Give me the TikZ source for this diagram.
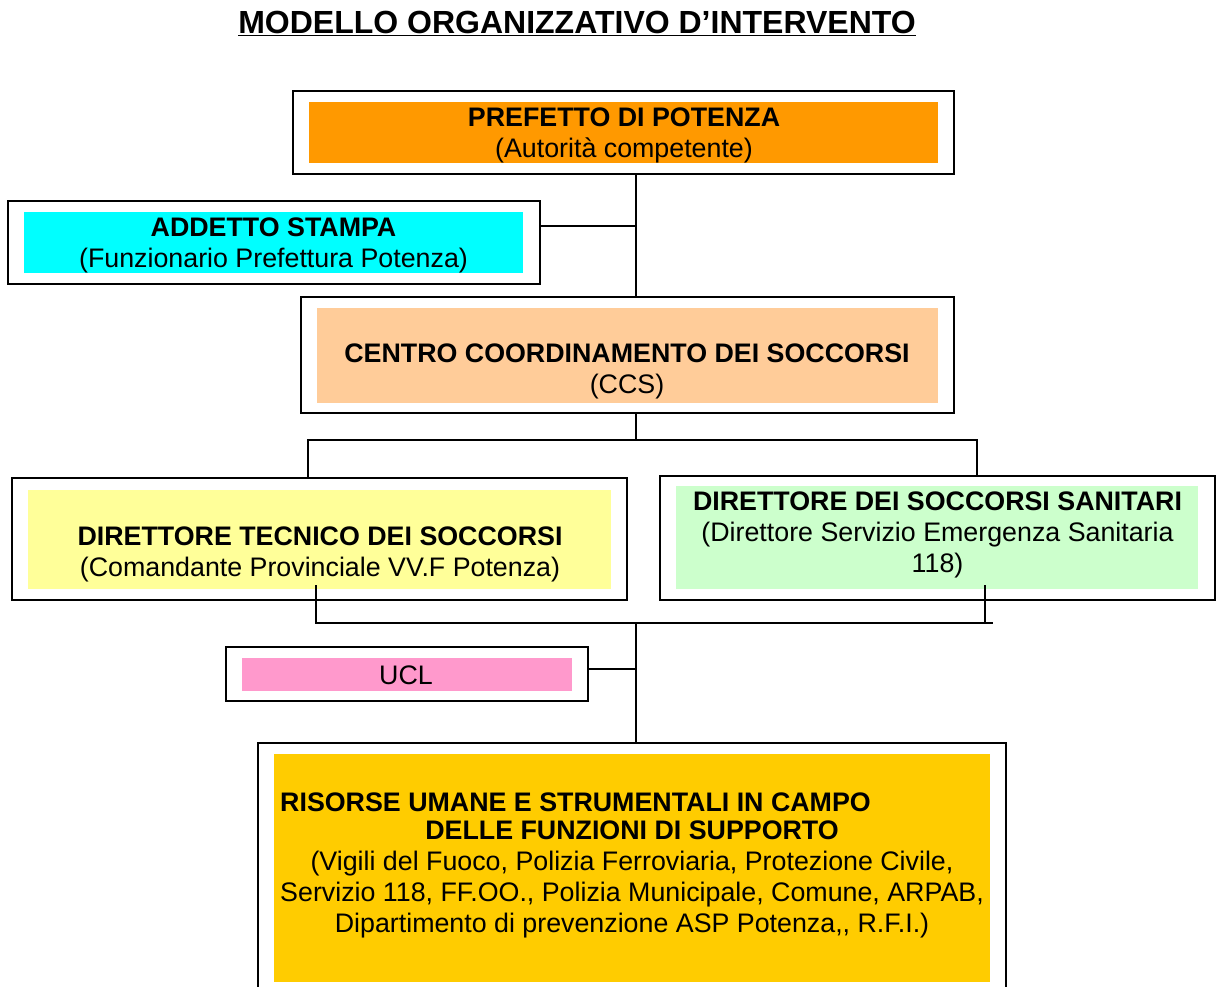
\documentclass[tikz,border=0pt]{standalone}
\usepackage{fontspec}
\setmainfont{Liberation Sans}
\definecolor{cOrange}{HTML}{FF9900}
\definecolor{cCyan}{HTML}{00FFFF}
\definecolor{cPeach}{HTML}{FFCC99}
\definecolor{cYellow}{HTML}{FFFF99}
\definecolor{cGreen}{HTML}{CCFFCC}
\definecolor{cPink}{HTML}{FF99CC}
\definecolor{cGold}{HTML}{FFCC00}
\tikzset{
  outerbox/.style={draw=black, line width=1.6pt, fill=white, inner sep=0pt, outer sep=0pt},
  fillbox/.style={draw=none, inner sep=0pt, outer sep=0pt},
  txt/.style={inner sep=0pt, align=center, font=\fontsize{26.8}{31}\selectfont},
  conn/.style={draw=black, line width=1.6pt},
}
\begin{document}
\begin{tikzpicture}[x=1pt,y=-1pt]
\useasboundingbox (0,0) rectangle (1220,986);
% title
\node[inner sep=0pt, font=\fontsize{32}{36}\selectfont\bfseries] (title) at (577,23) {\underline{MODELLO ORGANIZZATIVO D’INTERVENTO}};
% boxes
\node[outerbox, minimum width=661, minimum height=83] (prefO) at (623.5,132.5) {};
\node[fillbox, fill=cOrange, minimum width=629, minimum height=61] (prefI) at (623.5,132.5) {};
\node[txt] (prefT) at (624,135) {\textbf{PREFETTO DI POTENZA}\\(Autorità competente)};

\node[outerbox, minimum width=532, minimum height=83] (addO) at (274,242.5) {};
\node[fillbox, fill=cCyan, minimum width=499, minimum height=61] (addI) at (273.5,242.5) {};
\node[txt] (addT) at (273.5,245) {\textbf{ADDETTO STAMPA}\\(Funzionario Prefettura Potenza)};

\node[outerbox, minimum width=653, minimum height=116] (ccsO) at (627.5,355) {};
\node[fillbox, fill=cPeach, minimum width=621, minimum height=95] (ccsI) at (627.5,355.5) {};
\node[txt] (ccsT) at (627,371) {\textbf{CENTRO COORDINAMENTO DEI SOCCORSI}\\(CCS)};

\node[outerbox, minimum width=615, minimum height=122] (dtO) at (319.5,539) {};
\node[fillbox, fill=cYellow, minimum width=583, minimum height=99] (dtI) at (319.5,539.5) {};
\node[txt] (dtT) at (320,554) {\textbf{DIRETTORE TECNICO DEI SOCCORSI}\\(Comandante Provinciale VV.F Potenza)};

\node[outerbox, minimum width=555, minimum height=124] (dsO) at (937.5,538) {};
\node[fillbox, fill=cGreen, minimum width=522, minimum height=103] (dsI) at (937,537.5) {};
\node[txt] (dsT) at (937.5,535) {\textbf{DIRETTORE DEI SOCCORSI SANITARI}\\(Direttore Servizio Emergenza Sanitaria\\118)};

\node[outerbox, minimum width=362, minimum height=54] (uclO) at (407,674) {};
\node[fillbox, fill=cPink, minimum width=330, minimum height=33] (uclI) at (407,674.5) {};
\node[txt] (uclT) at (406,675) {UCL};

\node[outerbox, minimum width=748, minimum height=260] (risO) at (632,873) {};
\node[fillbox, fill=cGold, minimum width=716, minimum height=228] (risI) at (632,868) {};
\node[txt, anchor=west] (risT1) at (280,802) {\textbf{RISORSE UMANE E STRUMENTALI IN CAMPO}};
\node[txt] (risT2) at (632,879) {\textbf{DELLE FUNZIONI DI SUPPORTO}\\(Vigili del Fuoco, Polizia Ferroviaria, Protezione Civile,\\Servizio 118, FF.OO., Polizia Municipale, Comune, ARPAB,\\Dipartimento di prevenzione ASP Potenza,{},{} R.F.I.)};

% connector coordinates
\coordinate (spine) at (636,0);
\coordinate (addJ) at (540,226);
\coordinate (bus1) at (636,440);
\coordinate (bus2R) at (993,623);
\coordinate (bus2J) at (636,623);
\coordinate (uclJ) at (588,669);

\draw[conn] (prefO.south -| spine) -- (ccsO.north -| spine);
\draw[conn] (addJ) -- (addJ -| spine);
\draw[conn] (ccsO.south -| spine) -- (bus1);
\draw[conn] ([xshift=-11.5pt]dtO.north) |- (bus1) -| ([xshift=39.5pt]dsO.north);
\draw[conn] ([xshift=-3.5pt, yshift=15pt]dtO.south) |- (bus2R);
\draw[conn] ([xshift=47.5pt, yshift=15pt]dsO.south) -- ([xshift=47.5pt]dsO.south |- bus2R);
\draw[conn] (bus2J) -- (risO.north -| spine);
\draw[conn] (uclJ) -- (uclJ -| spine);
\end{tikzpicture}
\end{document}
